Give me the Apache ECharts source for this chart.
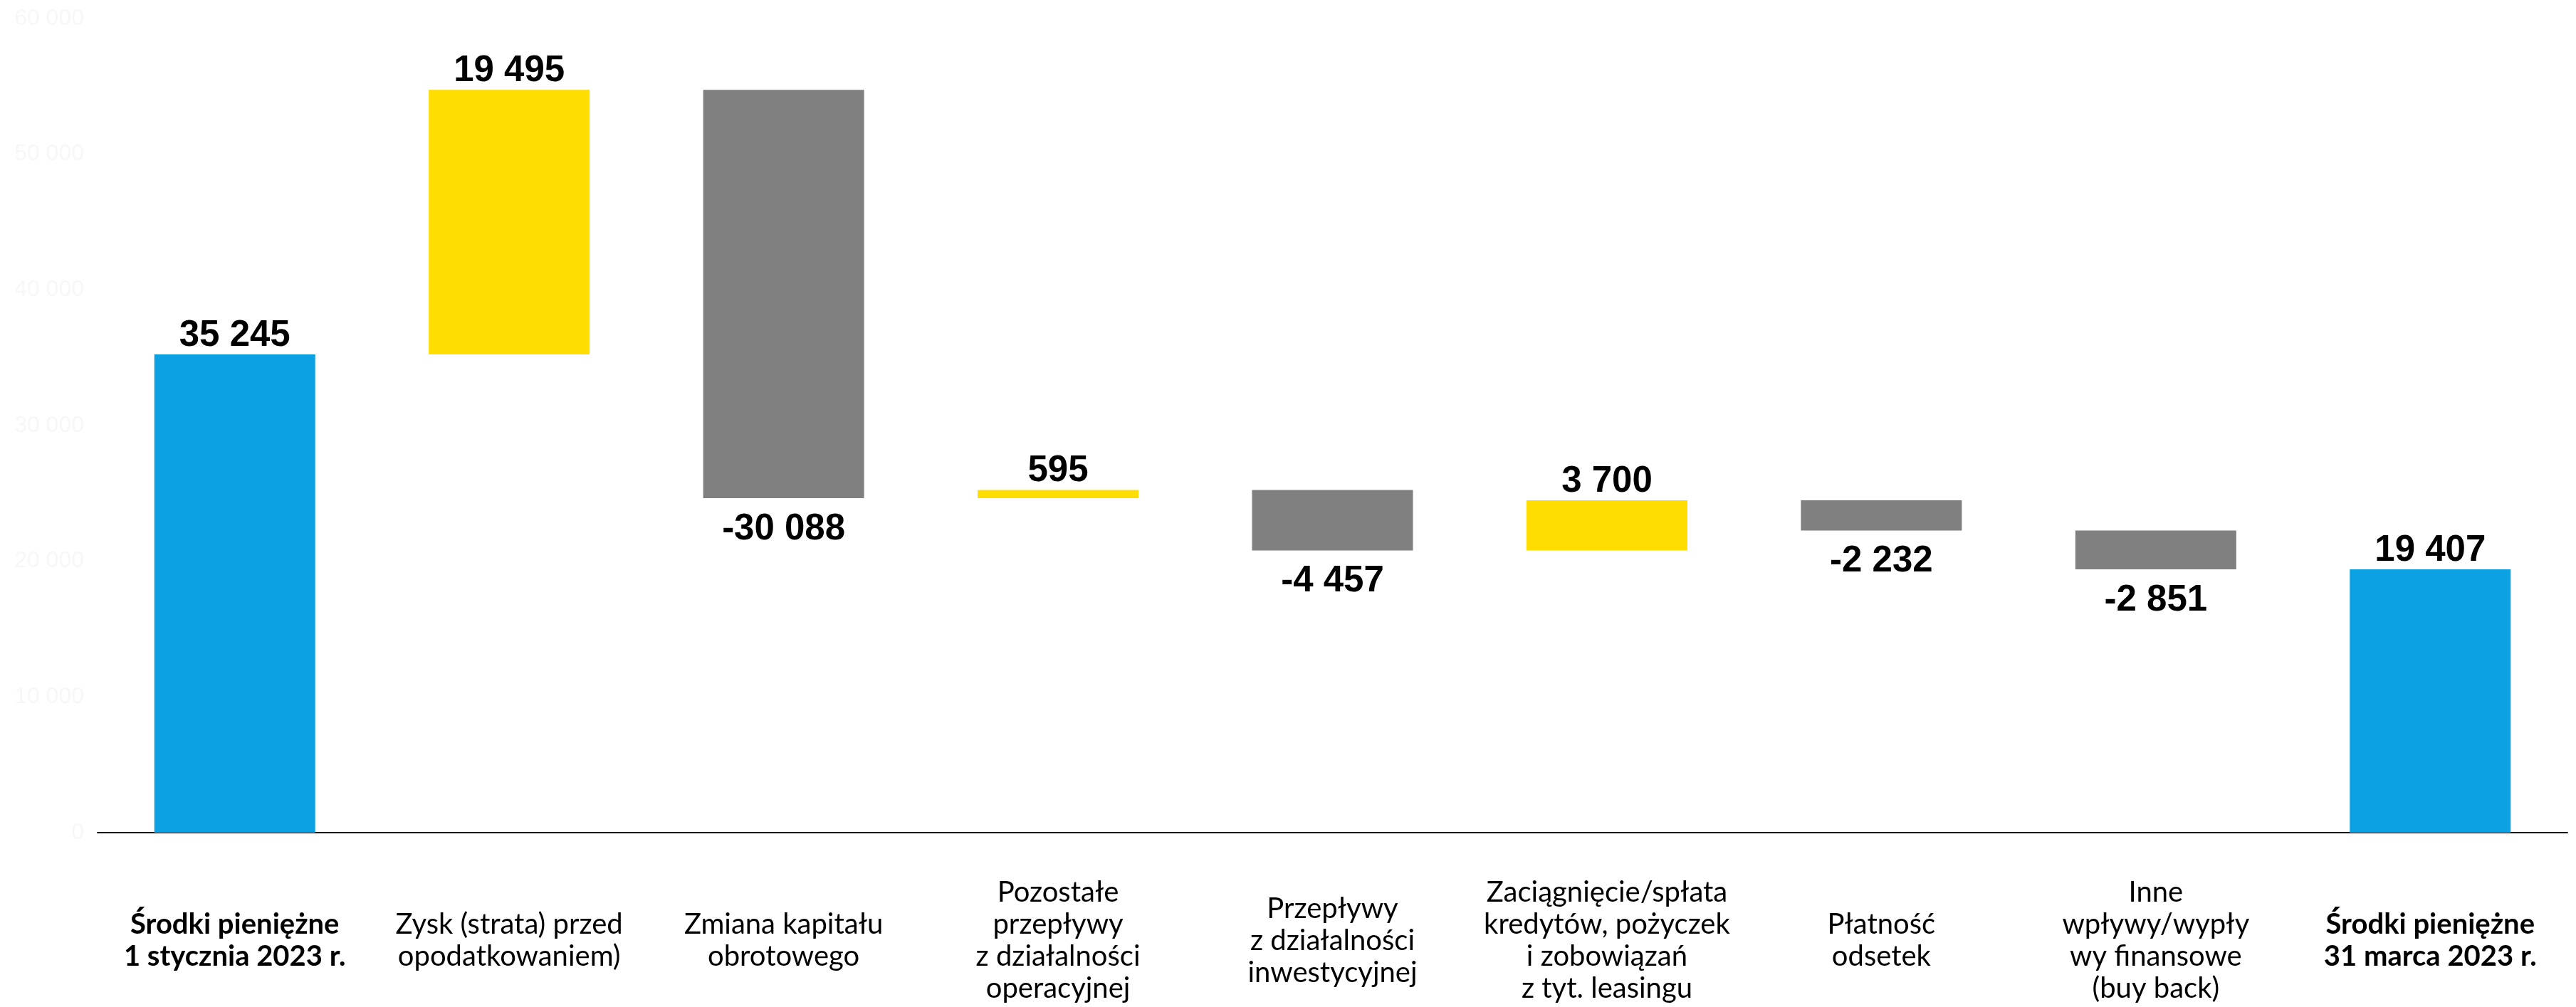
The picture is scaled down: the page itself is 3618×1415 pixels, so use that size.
<!DOCTYPE html>
<html>
<head>
<meta charset="utf-8">
<script src="https://cdn.jsdelivr.net/npm/echarts@6/dist/echarts.min.js"></script>
<style>
  html, body { margin: 0; padding: 0; background: #fff; }
  #chart { width: 3618px; height: 1415px; }
</style>
</head>
<body>
<div id="chart"></div>
<script>
// kategorie (etykiety osi X)
var categories = [
  'Środki pieniężne\n1 stycznia 2023 r.',
  'Zysk (strata) przed\nopodatkowaniem)',
  'Zmiana kapitału\nobrotowego',
  'Pozostałe\nprzepływy\nz działalności\noperacyjnej',
  'Przepływy\nz działalności\ninwestycyjnej',
  'Zaciągnięcie/spłata\nkredytów, pożyczek\ni zobowiązań\nz tyt. leasingu',
  'Płatność\nodsetek',
  'Inne\nwpływy/wypły\nwy finansowe\n(buy back)',
  'Środki pieniężne\n31 marca 2023 r.'
];
var values = [35245, 19495, -30088, 595, -4457, 3700, -2232, -2851, 19407];
var kinds = ['total', 'delta', 'delta', 'delta', 'delta', 'delta', 'delta', 'delta', 'total'];
var yTicks = [0, 10000, 20000, 30000, 40000, 50000, 60000];

var colors = { total: '#0ca1e2', up: '#ffdd00', down: '#808080' };
var LINE_H = 45;

// budowa serii pomocniczej (przezroczysta podstawa) i widocznych słupków
var baseData = [];
var barData = [];
var running = 0;
values.forEach(function (v, i) {
  var k = kinds[i];
  var color, base, h, pos;
  if (k === 'total') {
    base = 0; h = v; running = v; color = colors.total; pos = 'top';
  } else if (v >= 0) {
    base = running; h = v; running += v; color = colors.up; pos = 'top';
  } else {
    running += v; base = running; h = -v; color = colors.down; pos = 'bottom';
  }
  baseData.push(base);
  barData.push({
    value: h,
    itemStyle: { color: color },
    label: { position: pos, distance: pos === 'top' ? 1 : 18 }
  });
});

function fmt(n) {
  var s = String(Math.abs(n)).replace(/\B(?=(\d{3})+(?!\d))/g, ' ');
  return (n < 0 ? '-' : '') + s;
}

// odstęp nad etykietą, żeby wszystkie były wyśrodkowane w pionie (max 4 linie)
var spacerRich = {
  s1: { lineHeight: LINE_H / 2, fontSize: 1 },
  s2: { lineHeight: LINE_H, fontSize: 1 }
};

var myChart = echarts.init(document.getElementById('chart'));
var option = {
  backgroundColor: '#fff',
  animation: false,
  grid: { left: 137, right: 12, top: 26, bottom: 245, outerBoundsMode: 'none', containLabel: false },
  xAxis: {
    type: 'category',
    data: categories.map(function (c, i) {
      return {
        value: c,
        textStyle: { fontWeight: kinds[i] === 'total' ? 'bold' : 'normal' }
      };
    }),
    axisTick: { show: false },
    axisLine: { lineStyle: { color: '#111', width: 2 } },
    axisLabel: {
      interval: 0,
      color: '#000',
      fontFamily: 'Lato',
      fontSize: 40,
      lineHeight: LINE_H,
      verticalAlign: 'top',
      margin: 62,
      rich: spacerRich,
      formatter: function (val) {
        var n = val.split('\n').length;
        var pad = 4 - n;
        if (pad === 1) return '{s1| }\n' + val;
        if (pad === 2) return '{s2| }\n' + val;
        if (pad === 3) return '{s2| }\n{s1| }\n' + val;
        return val;
      }
    }
  },
  yAxis: {
    type: 'value',
    min: yTicks[0],
    max: yTicks[yTicks.length - 1],
    interval: 10000,
    splitLine: { show: false },
    axisLine: { show: false },
    axisLabel: {
      color: '#f7f7f7',
      fontFamily: 'Liberation Sans',
      fontSize: 32,
      margin: 19,
      formatter: function (v) { return fmt(v); }
    }
  },
  series: [
    {
      name: 'base',
      type: 'bar',
      stack: 'w',
      barWidth: 226,
      itemStyle: { color: 'transparent' },
      emphasis: { disabled: true },
      data: baseData
    },
    {
      name: 'value',
      type: 'bar',
      stack: 'w',
      barWidth: 226,
      data: barData,
      label: {
        show: true,
        color: '#000',
        fontFamily: 'Liberation Sans',
        fontWeight: 'bold',
        fontSize: 51,
        formatter: function (p) { return fmt(values[p.dataIndex]); }
      }
    }
  ]
};
myChart.setOption(option);
</script>
</body>
</html>
